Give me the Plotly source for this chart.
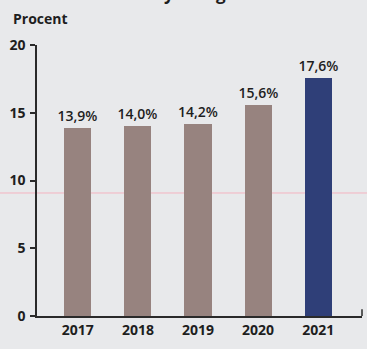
import plotly.graph_objects as go

years = ["2017", "2018", "2019", "2020", "2021"]
values = [13.9, 14.0, 14.2, 15.6, 17.6]
labels = ["13,9%", "14,0%", "14,2%", "15,6%", "17,6%"]
colors = ["#97837f", "#97837f", "#97837f", "#97837f", "#2f3f78"]
y_ticks = [0, 5, 10, 15, 20]
title_text = "Omflyttningar"
y_title = "Procent"

FONT = "Open Sans"
bg = "#e8e9eb"
TXT = "#1e1e1e"

fig = go.Figure()
fig.add_trace(go.Bar(
    x=list(range(len(years))), y=values, marker=dict(color=colors, line=dict(width=0)),
    width=0.45, text=labels, textposition="outside", cliponaxis=False,
    constraintext="none",
    textfont=dict(family=FONT, size=14, color=TXT, weight=600),
))

fig.update_layout(
    width=367, height=349,
    margin=dict(l=37, r=5, t=45, b=33),
    paper_bgcolor=bg, plot_bgcolor=bg,
    showlegend=False,
    bargap=0,
    font=dict(family=FONT, size=14, color=TXT, weight=600),
    xaxis=dict(
        range=[-0.68, 4.73], tickmode="array", tickvals=list(range(len(years))),
        ticktext=years, showgrid=False, zeroline=False, showline=True,
        linecolor="#2a2a2a", linewidth=1.5, ticks="", fixedrange=True,
        tickfont=dict(family=FONT, size=14, color=TXT, weight=700),
    ),
    yaxis=dict(
        range=[0, 20], tickvals=y_ticks, showgrid=False, zeroline=False,
        showline=True, linecolor="#2a2a2a", linewidth=1.5, ticks="outside",
        ticklen=5, tickcolor="#2a2a2a", tickwidth=1.5, ticklabelstandoff=2,
        tickfont=dict(family=FONT, size=14, color=TXT, weight=700),
    ),
)

# small upward tick at the right end of the x axis
fig.add_shape(type="line", xref="paper", yref="paper", x0=1, x1=1, y0=0, y1=0.025,
              line=dict(color="#2a2a2a", width=1.5))
# faint pink horizontal scan line
fig.add_shape(type="line", xref="paper", yref="y", x0=-0.2, x1=1.1, y0=9.08, y1=9.08,
              line=dict(color="#f4b3c0", width=1), layer="below")

fig.add_annotation(text=y_title, xref="paper", yref="paper", x=-0.08, y=1.096,
                   xanchor="left", yanchor="middle", showarrow=False,
                   font=dict(family=FONT, size=14, color=TXT, weight=700))
fig.add_annotation(text=title_text, xref="paper", yref="paper", x=0.45, y=1.14,
                   xanchor="center", yanchor="bottom", showarrow=False,
                   font=dict(family=FONT, size=17, color=TXT, weight=700))

fig.write_html("out.html")
